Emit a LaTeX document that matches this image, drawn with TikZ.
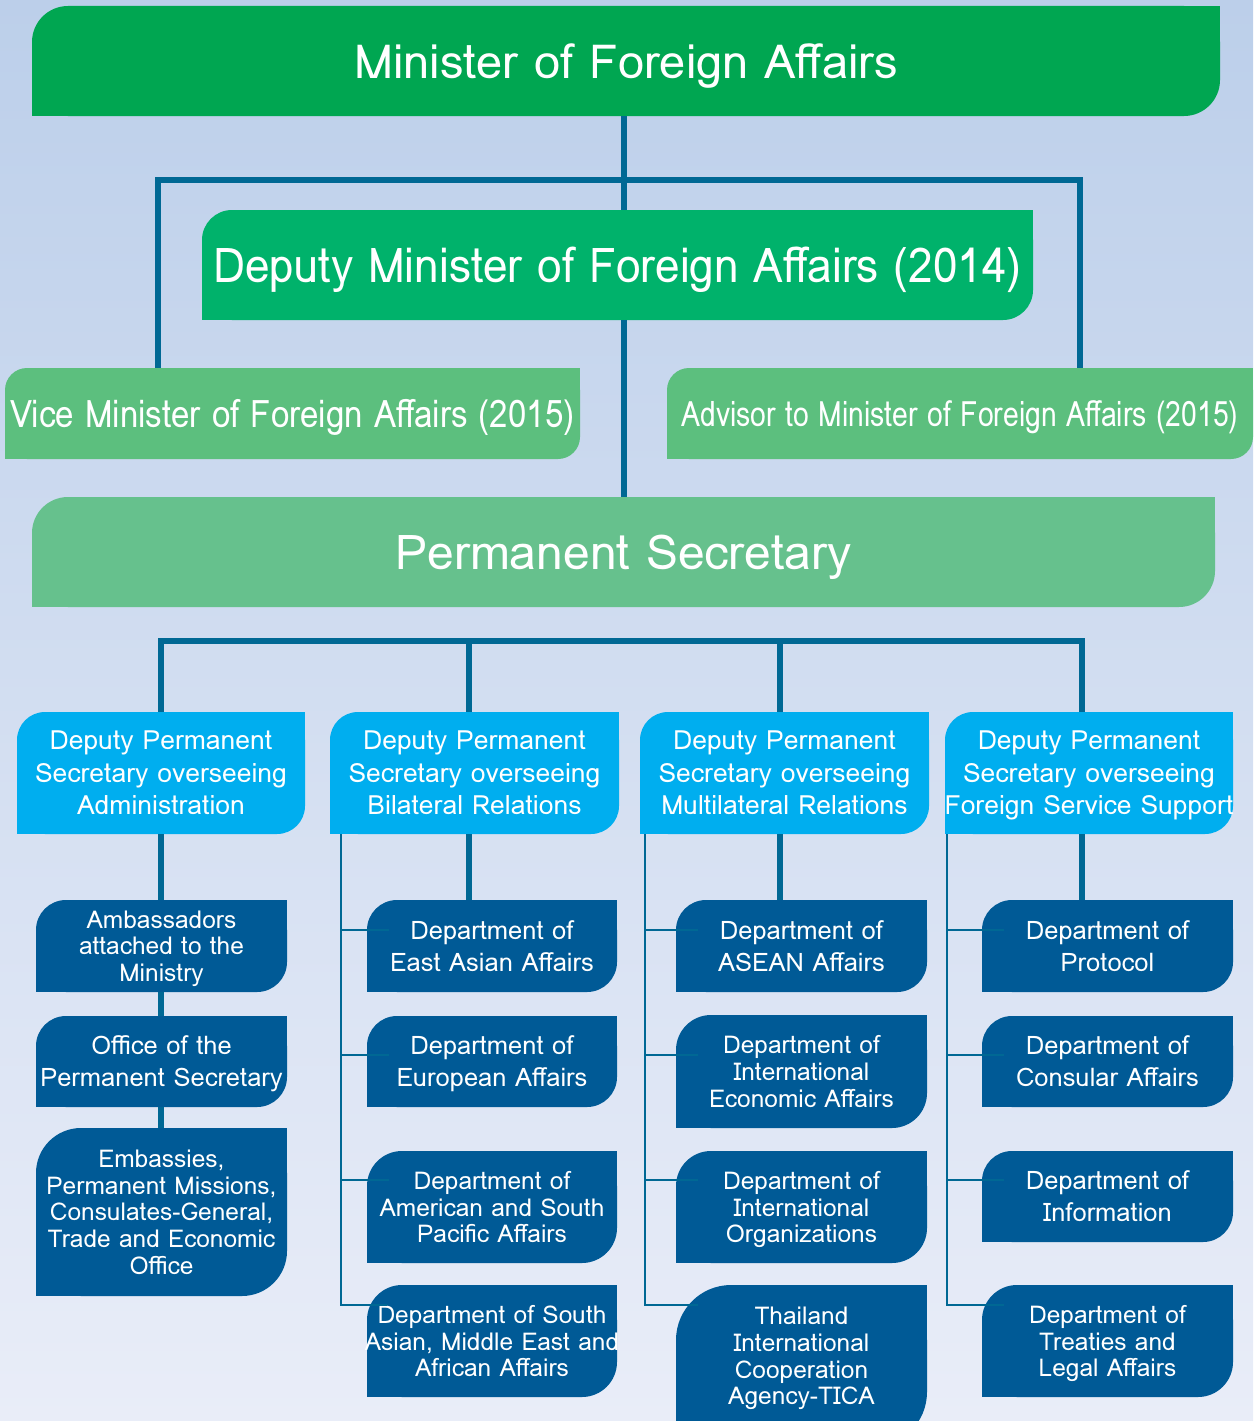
\documentclass[tikz,border=0pt]{standalone}
\usepackage{fontspec}
\setmainfont{Loma}
\newfontfamily\depfont[FakeStretch=0.92]{Loma}
\newfontfamily\vicefontfam[FakeStretch=0.87]{Loma}
\newfontfamily\advfontfam[FakeStretch=0.81]{Loma}
\usetikzlibrary{calc}
\definecolor{bgtop}{HTML}{BCCFEA}
\definecolor{bgbot}{HTML}{E9EDF8}
\definecolor{minc}{HTML}{00A651}
\definecolor{depc}{HTML}{00B26B}
\definecolor{vicec}{HTML}{5CBF7E}
\definecolor{psc}{HTML}{66C18D}
\definecolor{dpsc}{HTML}{00AEEF}
\definecolor{deptc}{HTML}{005A96}
\definecolor{linec}{HTML}{006894}
\tikzset{
  boxtext/.style={inner sep=0pt, align=center, text=white, text depth=0pt},
  thickline/.style={draw=linec, line width=5.5pt},
  thinline/.style={draw=linec, line width=2.8pt},
  minfont/.style={font=\fontsize{47}{52}\selectfont},
  depfontst/.style={font=\depfont\fontsize{48}{54}\selectfont},
  psfont/.style={font=\fontsize{48}{54}\selectfont},
  vicefont/.style={font=\vicefontfam\fontsize{38}{44}\selectfont},
  advfont/.style={font=\advfontfam\fontsize{35}{40}\selectfont},
  dpsfont/.style={font=\fontsize{26.5}{32.5}\selectfont},
  deptfont/.style={font=\fontsize{25.5}{32}\selectfont},
  deptfontc/.style={font=\fontsize{24.5}{26.7}\selectfont},
}
% name, x1, y1, x2, y2, radius, colour, style, text
\newcommand\obox[9]{%
  \fill[#7, rounded corners=#6] (#2,#3) rectangle (#4,#5);
  \fill[#7] ({#4-#6},#3) rectangle (#4,{#3+#6});
  \fill[#7] (#2,{#5-#6}) rectangle ({#2+#6},#5);
  \node[boxtext, minimum width={#4-#2}, minimum height={#5-#3}, #8] (#1) at ({(#2+#4)/2},{(#3+#5)/2}) {#9};
}
\begin{document}
\begin{tikzpicture}[x=1pt,y=-1pt]
\useasboundingbox (0,0) rectangle (1253,1421);
\shade[top color=bgtop, bottom color=bgbot] (0,0) rectangle (1253,1421);

% bus coordinates
\coordinate (b1l) at (158,180);
\coordinate (b1r) at (1080,180);
\coordinate (dmtop) at (624,210);
\coordinate (t1) at (161,641);
\coordinate (t2) at (469,641);
\coordinate (t3) at (780,641);
\coordinate (t4) at (1082,641);
\coordinate (c2v) at (341,0);
\coordinate (c3v) at (645,0);
\coordinate (c4v) at (947,0);
\coordinate (r1) at (0,930);
\coordinate (r2) at (0,1055);
\coordinate (r3) at (0,1180);
\coordinate (r4) at (0,1305);

% top level boxes
\obox{min}{32}{6}{1220}{116}{36}{minc}{minfont}{Minister of Foreign Affairs}
\obox{vice}{5}{368}{580}{459}{22}{vicec}{vicefont}{Vice Minister of Foreign Affairs (2015)}
\obox{adv}{667}{368}{1253}{459}{22}{vicec}{advfont}{Advisor to Minister of Foreign Affairs (2015)}

% upper connectors
\draw[thickline] (dmtop |- min.south) -- (dmtop);
\draw[thickline] (b1l |- vice.north) -- (b1l) -- (b1r) -- (b1r |- adv.north);

\obox{dep}{202}{210}{1033}{320}{30}{depc}{depfontst}{Deputy Minister of Foreign Affairs (2014)}
\obox{ps}{32}{497}{1215}{607}{36}{psc}{psfont}{Permanent Secretary}
\draw[thickline] (dep.south -| dmtop) -- (ps.north -| dmtop);

% deputy permanent secretaries
\obox{dps1}{17}{712}{305}{834}{28}{dpsc}{dpsfont}{Deputy Permanent\\Secretary overseeing\\Administration}
\obox{dps2}{330}{712}{619}{834}{28}{dpsc}{dpsfont}{Deputy Permanent\\Secretary overseeing\\Bilateral Relations}
\obox{dps3}{640}{712}{929}{834}{28}{dpsc}{dpsfont}{Deputy Permanent\\Secretary overseeing\\Multilateral Relations}
\obox{dps4}{945}{712}{1233}{834}{28}{dpsc}{dpsfont}{Deputy Permanent\\Secretary overseeing\\Foreign Service Support}

\draw[thickline] (t1 |- dps1.north) -- (t1) -- (t4) -- (t4 |- dps4.north);
\draw[thickline] (t2) -- (t2 |- dps2.north);
\draw[thickline] (t3) -- (t3 |- dps3.north);

% administration column
\obox{amb}{36}{900}{287}{992}{30}{deptc}{deptfontc}{Ambassadors\\attached to the\\Ministry}
\obox{ops}{36}{1016}{287}{1107}{30}{deptc}{deptfont}{Office of the\\Permanent Secretary}
\obox{emb}{36}{1128}{287}{1296}{45}{deptc}{deptfontc}{Embassies,\\Permanent Missions,\\Consulates-General,\\Trade and Economic\\Office}
\draw[thickline] (dps1.south -| t1) -- (amb.north -| t1);
\draw[thickline] (amb.south -| t1) -- (ops.north -| t1);
\draw[thickline] (ops.south -| t1) -- (emb.north -| t1);

% bilateral column
\obox{dea}{367}{900}{617}{992}{30}{deptc}{deptfont}{Department of\\East Asian Affairs}
\obox{deu}{367}{1016}{617}{1107}{30}{deptc}{deptfont}{Department of\\European Affairs}
\obox{dam}{367}{1151}{617}{1263}{35}{deptc}{deptfontc}{Department of\\American and South\\Pacific Affairs}
\obox{dsa}{367}{1285}{617}{1397}{35}{deptc}{deptfontc}{Department of South\\Asian, Middle East and\\African Affairs}
\draw[thickline] (dps2.south -| t2) -- (dea.north -| t2);
\draw[thinline] (dps2.south -| c2v) -- (c2v |- r4) -- ([xshift=22pt]dsa.west |- r4);
\draw[thinline] (c2v |- r1) -- ([xshift=22pt]dea.west |- r1);
\draw[thinline] (c2v |- r2) -- ([xshift=22pt]deu.west |- r2);
\draw[thinline] (c2v |- r3) -- ([xshift=22pt]dam.west |- r3);

% multilateral column
\obox{das}{676}{900}{927}{992}{30}{deptc}{deptfont}{Department of\\ASEAN Affairs}
\obox{die}{676}{1015}{927}{1128}{35}{deptc}{deptfontc}{Department of\\International\\Economic Affairs}
\obox{dio}{676}{1151}{927}{1263}{35}{deptc}{deptfontc}{Department of\\International\\Organizations}
\obox{tica}{676}{1285}{927}{1447}{55}{deptc}{deptfontc, yshift=10pt}{Thailand\\International\\Cooperation\\Agency-TICA}
\draw[thickline] (dps3.south -| t3) -- (das.north -| t3);
\draw[thinline] (dps3.south -| c3v) -- (c3v |- r4) -- ([xshift=22pt]tica.west |- r4);
\draw[thinline] (c3v |- r1) -- ([xshift=22pt]das.west |- r1);
\draw[thinline] (c3v |- r2) -- ([xshift=22pt]die.west |- r2);
\draw[thinline] (c3v |- r3) -- ([xshift=22pt]dio.west |- r3);

% foreign service support column
\obox{dpr}{982}{900}{1233}{992}{30}{deptc}{deptfont}{Department of\\Protocol}
\obox{dco}{982}{1016}{1233}{1107}{30}{deptc}{deptfont}{Department of\\Consular Affairs}
\obox{din}{982}{1151}{1233}{1242}{30}{deptc}{deptfont}{Department of\\Information}
\obox{dtr}{982}{1285}{1233}{1397}{35}{deptc}{deptfontc}{Department of\\Treaties and\\Legal Affairs}
\draw[thickline] (dps4.south -| t4) -- (dpr.north -| t4);
\draw[thinline] (dps4.south -| c4v) -- (c4v |- r4) -- ([xshift=22pt]dtr.west |- r4);
\draw[thinline] (c4v |- r1) -- ([xshift=22pt]dpr.west |- r1);
\draw[thinline] (c4v |- r2) -- ([xshift=22pt]dco.west |- r2);
\draw[thinline] (c4v |- r3) -- ([xshift=22pt]din.west |- r3);
\end{tikzpicture}
\end{document}
